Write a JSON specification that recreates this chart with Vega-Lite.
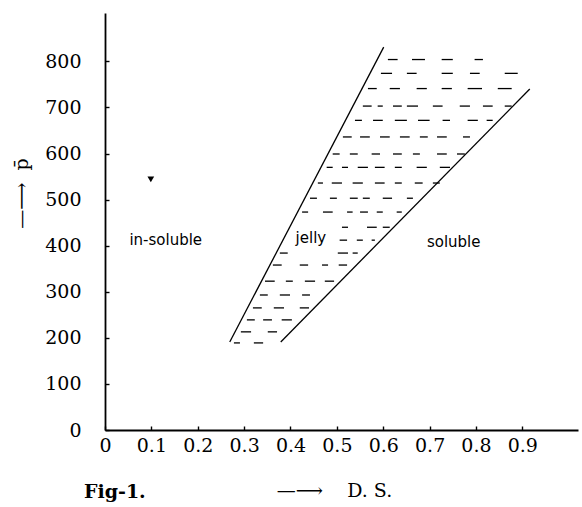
{
  "$schema": "https://vega.github.io/schema/vega-lite/v6.json",
  "autosize": "none",
  "width": 473,
  "height": 417,
  "padding": {"left": 105, "top": 13, "right": 4, "bottom": 77},
  "background": "white",
  "config": {
    "view": {"stroke": null},
    "axis": {"grid": false, "domainColor": "black", "domainWidth": 1.8, "tickColor": "black", "tickWidth": 1.4, "labelColor": "black", "titleColor": "black", "labelFont": "DejaVu Serif", "labelFontSize": 19, "titleFont": "DejaVu Serif", "titleFontWeight": "normal", "titleFontSize": 19}
  },
  "title": {"text": "Fig-1.", "orient": "bottom", "anchor": "start", "font": "DejaVu Serif", "fontSize": 19, "fontWeight": "bold", "color": "black", "dx": 72, "dy": -21},
  "datasets": {
    "bounds": [
      {"side": "left", "x": 0.269, "y": 191, "x2": 0.601, "y2": 831},
      {"side": "right", "x": 0.379, "y": 191, "x2": 0.916, "y2": 740}
    ],
    "dashes": [
      {"x": 0.610, "x2": 0.631, "y": 804}, {"x": 0.662, "x2": 0.690, "y": 804}, {"x": 0.726, "x2": 0.750, "y": 804}, {"x": 0.797, "x2": 0.815, "y": 804},
      {"x": 0.595, "x2": 0.619, "y": 774}, {"x": 0.651, "x2": 0.672, "y": 774}, {"x": 0.726, "x2": 0.750, "y": 774}, {"x": 0.787, "x2": 0.808, "y": 774}, {"x": 0.862, "x2": 0.890, "y": 774},
      {"x": 0.567, "x2": 0.586, "y": 741}, {"x": 0.614, "x2": 0.636, "y": 741}, {"x": 0.672, "x2": 0.694, "y": 741}, {"x": 0.726, "x2": 0.748, "y": 741}, {"x": 0.782, "x2": 0.813, "y": 741}, {"x": 0.847, "x2": 0.877, "y": 741},
      {"x": 0.556, "x2": 0.575, "y": 703}, {"x": 0.588, "x2": 0.599, "y": 703}, {"x": 0.621, "x2": 0.640, "y": 703}, {"x": 0.651, "x2": 0.675, "y": 703}, {"x": 0.707, "x2": 0.728, "y": 703}, {"x": 0.765, "x2": 0.787, "y": 703}, {"x": 0.815, "x2": 0.836, "y": 703}, {"x": 0.862, "x2": 0.877, "y": 703},
      {"x": 0.539, "x2": 0.554, "y": 672}, {"x": 0.578, "x2": 0.599, "y": 672}, {"x": 0.625, "x2": 0.651, "y": 672}, {"x": 0.675, "x2": 0.700, "y": 672}, {"x": 0.728, "x2": 0.744, "y": 672}, {"x": 0.782, "x2": 0.804, "y": 672}, {"x": 0.823, "x2": 0.836, "y": 672},
      {"x": 0.513, "x2": 0.532, "y": 636}, {"x": 0.550, "x2": 0.571, "y": 636}, {"x": 0.593, "x2": 0.614, "y": 636}, {"x": 0.636, "x2": 0.657, "y": 636}, {"x": 0.679, "x2": 0.696, "y": 636}, {"x": 0.716, "x2": 0.737, "y": 636}, {"x": 0.772, "x2": 0.787, "y": 636},
      {"x": 0.491, "x2": 0.506, "y": 599}, {"x": 0.528, "x2": 0.545, "y": 599}, {"x": 0.575, "x2": 0.593, "y": 599}, {"x": 0.621, "x2": 0.640, "y": 599}, {"x": 0.664, "x2": 0.679, "y": 599}, {"x": 0.716, "x2": 0.737, "y": 599}, {"x": 0.759, "x2": 0.776, "y": 599},
      {"x": 0.478, "x2": 0.491, "y": 570}, {"x": 0.511, "x2": 0.524, "y": 570}, {"x": 0.545, "x2": 0.567, "y": 570}, {"x": 0.582, "x2": 0.603, "y": 570}, {"x": 0.625, "x2": 0.640, "y": 570}, {"x": 0.672, "x2": 0.694, "y": 570}, {"x": 0.722, "x2": 0.744, "y": 570},
      {"x": 0.459, "x2": 0.470, "y": 536}, {"x": 0.489, "x2": 0.511, "y": 536}, {"x": 0.534, "x2": 0.556, "y": 536}, {"x": 0.582, "x2": 0.603, "y": 536}, {"x": 0.625, "x2": 0.640, "y": 536}, {"x": 0.668, "x2": 0.685, "y": 536}, {"x": 0.707, "x2": 0.722, "y": 536},
      {"x": 0.442, "x2": 0.457, "y": 503}, {"x": 0.485, "x2": 0.500, "y": 503}, {"x": 0.528, "x2": 0.545, "y": 503}, {"x": 0.556, "x2": 0.571, "y": 503}, {"x": 0.599, "x2": 0.619, "y": 503}, {"x": 0.651, "x2": 0.664, "y": 503},
      {"x": 0.425, "x2": 0.438, "y": 473}, {"x": 0.470, "x2": 0.491, "y": 473}, {"x": 0.522, "x2": 0.534, "y": 473}, {"x": 0.550, "x2": 0.567, "y": 473}, {"x": 0.586, "x2": 0.599, "y": 473}, {"x": 0.629, "x2": 0.640, "y": 473},
      {"x": 0.511, "x2": 0.524, "y": 440}, {"x": 0.565, "x2": 0.586, "y": 440}, {"x": 0.599, "x2": 0.614, "y": 440},
      {"x": 0.506, "x2": 0.522, "y": 412}, {"x": 0.543, "x2": 0.556, "y": 412}, {"x": 0.575, "x2": 0.582, "y": 412},
      {"x": 0.377, "x2": 0.394, "y": 384}, {"x": 0.502, "x2": 0.524, "y": 384}, {"x": 0.534, "x2": 0.545, "y": 384},
      {"x": 0.362, "x2": 0.381, "y": 358}, {"x": 0.420, "x2": 0.438, "y": 358}, {"x": 0.468, "x2": 0.481, "y": 358}, {"x": 0.504, "x2": 0.522, "y": 358},
      {"x": 0.345, "x2": 0.366, "y": 323}, {"x": 0.390, "x2": 0.405, "y": 323}, {"x": 0.431, "x2": 0.453, "y": 323}, {"x": 0.474, "x2": 0.494, "y": 323},
      {"x": 0.334, "x2": 0.351, "y": 293}, {"x": 0.377, "x2": 0.399, "y": 293}, {"x": 0.425, "x2": 0.442, "y": 293},
      {"x": 0.319, "x2": 0.338, "y": 265}, {"x": 0.364, "x2": 0.386, "y": 265}, {"x": 0.420, "x2": 0.440, "y": 265},
      {"x": 0.306, "x2": 0.323, "y": 239}, {"x": 0.341, "x2": 0.360, "y": 239}, {"x": 0.381, "x2": 0.403, "y": 239},
      {"x": 0.293, "x2": 0.315, "y": 213}, {"x": 0.351, "x2": 0.371, "y": 213},
      {"x": 0.278, "x2": 0.291, "y": 189}, {"x": 0.321, "x2": 0.341, "y": 189}
    ],
    "labels": [
      {"label": "in-soluble", "x": 0.131, "y": 412},
      {"label": "jelly", "x": 0.444, "y": 416},
      {"label": "soluble", "x": 0.752, "y": 408}
    ],
    "marks": [
      {"x": 0.097, "y": 547}
    ]
  },
  "layer": [
    {
      "data": {"name": "bounds"},
      "mark": {"type": "rule", "color": "black", "strokeWidth": 1.3},
      "encoding": {
        "x": {"field": "x", "type": "quantitative", "scale": {"domain": [0, 1.02], "nice": false, "zero": false},
          "axis": {"values": [0, 0.1, 0.2, 0.3, 0.4, 0.5, 0.6, 0.7, 0.8, 0.9], "format": ".1~f", "tickSize": -4, "labelPadding": 10, "labelFlush": false, "labelOverlap": false, "title": "—⟶\u00a0\u00a0\u00a0\u00a0D.\u00a0S.", "titlePadding": 26, "titleX": 229, "titleAlign": "center"}},
        "y": {"field": "y", "type": "quantitative", "scale": {"domain": [0, 905], "nice": false, "zero": false},
          "axis": {"values": [0, 100, 200, 300, 400, 500, 600, 700, 800], "tickSize": -4, "labelPadding": 28, "labelFlush": false, "labelOverlap": false, "title": "—⟶\u00a0\u00a0p̄", "titleAngle": -90, "titleX": -84, "titleY": 180, "titleAlign": "center", "titleBaseline": "middle"}},
        "x2": {"field": "x2"},
        "y2": {"field": "y2"}
      }
    },
    {
      "data": {"name": "dashes"},
      "mark": {"type": "rule", "color": "black", "strokeWidth": 1.3},
      "encoding": {
        "x": {"field": "x", "type": "quantitative"},
        "x2": {"field": "x2"},
        "y": {"field": "y", "type": "quantitative"}
      }
    },
    {
      "data": {"name": "labels"},
      "mark": {"type": "text", "font": "DejaVu Sans", "fontSize": 15, "color": "black"},
      "encoding": {
        "x": {"field": "x", "type": "quantitative"},
        "y": {"field": "y", "type": "quantitative"},
        "text": {"field": "label"}
      }
    },
    {
      "data": {"name": "marks"},
      "mark": {"type": "point", "shape": "triangle-up", "filled": true, "color": "black", "size": 45, "angle": -60, "opacity": 1},
      "encoding": {
        "x": {"field": "x", "type": "quantitative"},
        "y": {"field": "y", "type": "quantitative"}
      }
    }
  ]
}
